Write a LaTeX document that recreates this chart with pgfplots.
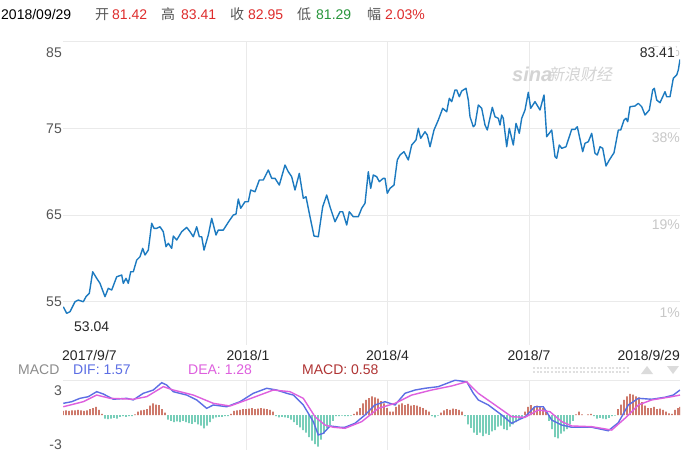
\documentclass[border=0pt]{standalone}
\usepackage{pgfplots}
\pgfplotsset{compat=1.18}
\usepackage{fontspec}
\setmainfont{Liberation Sans}
\newfontfamily\cjk{Noto Sans CJK SC}
\newfontfamily\cjkslant[FakeSlant=0.2]{Noto Sans CJK SC}
\definecolor{priceblue}{RGB}{28,122,192}
\definecolor{gridgray}{RGB}{234,234,234}
\definecolor{labgray}{RGB}{85,85,85}
\definecolor{rlabgray}{RGB}{200,200,200}
\definecolor{hdrred}{RGB}{222,44,44}
\definecolor{hdrgreen}{RGB}{40,150,60}
\definecolor{difblue}{RGB}{92,110,228}
\definecolor{deamag}{RGB}{222,96,222}
\definecolor{barred}{RGB}{180,52,30}
\definecolor{barteal}{RGB}{48,180,148}
\definecolor{macdlab}{RGB}{176,52,52}
\definecolor{wm}{RGB}{212,212,212}
\begin{document}
\begin{tikzpicture}[x=1pt,y=1pt]
\useasboundingbox (0,0) rectangle (690,450);
\fill[white] (0,0) rectangle (690,450);
% ---------- main price axis ----------
\begin{axis}[
  at={(63pt,105pt)}, anchor=south west,
  scale only axis, width=617pt, height=303.4pt,
  xmin=63, xmax=680, ymin=50, ymax=85,
  axis line style={draw=none}, tick style={draw=none},
  xtick={246.7,387.3,529}, ytick={55,65,75,85},
  xticklabels={}, yticklabels={},
  grid=major, major grid style={color=gridgray, line width=0.9pt},
]
\addplot[color=priceblue, line width=1.4pt, line join=round] coordinates {
(63.3,54.41)(66.7,53.65)(70,53.84)(75,54.99)(78.3,55.19)(83.3,54.99)(86,55.57)(89.3,55.96)
(92.7,58.45)(96.7,57.69)(100,57.11)(105,55.57)(108.3,56.54)(111.7,56.34)(116.7,57.87)(121.7,58.07)
(123.3,57.11)(126,57.69)(128.3,57.11)(130.7,58.45)(133.3,58.45)(136.7,59.80)(140,60.18)(142.7,61.15)
(145,60.38)(148.3,60.95)(151.7,64.04)(154,63.46)(156.7,63.46)(160,63.64)(163.3,63.07)(166,61.34)
(168.3,61.73)(171.7,61.15)(173.3,62.57)(176.7,62.11)(181.7,63.07)(186.7,63.57)(190,63.07)(193.3,62.49)
(196.7,63.64)(199.3,62.49)(201.7,62.49)(204,60.95)(208.3,62.69)(211.7,64.61)(216,62.69)(218.3,63.26)
(223.3,63.26)(229.3,64.34)(233.3,64.99)(236,65.10)(238.3,66.84)(240.7,65.77)(245,66.53)(248.3,66.53)
(250.7,67.88)(255,67.68)(259.3,69.03)(263.3,69.03)(268.3,70.19)(271.7,69.23)(275,69.23)(279.3,68.45)
(285,70.76)(288.3,69.99)(291.7,69.41)(295,67.88)(299.3,69.80)(303.3,66.92)(306,67.10)(310,64.80)
(314,62.57)(318.3,62.49)(322.7,65.95)(326.7,67.30)(330,65.95)(335,64.22)(340,65.37)(342.7,65.37)
(346.7,63.84)(349.3,65.37)(353.3,64.80)(358.3,64.80)(361.7,65.77)(365,66.34)(368.3,69.99)(370.7,68.07)
(373.3,69.61)(376.7,69.41)(379.3,68.84)(383.3,69.23)(385,69.23)(387.3,67.50)(390,68.07)(394,68.45)
(397.3,71.34)(400,71.92)(404,72.30)(408.3,71.34)(411.7,73.07)(416,73.65)(418.3,75.00)(420.7,73.84)
(425,74.60)(427.3,74.22)(430,72.87)(434,74.80)(438.3,75.95)(442.7,77.30)(446.7,76.91)(449.3,78.46)
(451.7,78.07)(455,79.42)(456.7,79.42)(459.3,78.64)(461.7,79.30)(466,79.61)(468.3,78.26)(470,76.33)
(473.3,75.18)(475,75.38)(478.3,77.68)(481.7,77.30)(485,75.38)(487.3,74.80)(492.3,77.42)(495,76.33)
(498.3,76.15)(500,75.38)(501.7,76.53)(503.3,76.15)(506.7,72.87)(509.3,75.00)(513.3,73.07)(516,75.57)
(519.3,74.42)(521.7,76.15)(525,77.11)(528.3,79.15)(530.7,77.30)(535,78.07)(540,77.11)(544,78.84)
(546.7,74.03)(551.7,74.80)(555,71.72)(556.7,71.54)(559.3,73.07)(561.7,72.69)(566,72.87)(571.7,74.88)
(575,74.88)(577.3,75.18)(582.7,72.30)(585,73.27)(588.3,73.45)(591.7,74.42)(595,72.11)(597.3,71.92)
(600,72.87)(602.7,72.69)(606,70.65)(609.3,71.34)(614,72.18)(618.3,74.80)(620.7,74.80)(624,75.95)
(626,76.15)(627.7,75.76)(630,77.49)(635,77.57)(638.3,77.88)(641.7,77.49)(645,76.53)(649.3,77.11)
(652.7,79.42)(654.3,79.61)(656.7,78.26)(660,77.95)(665,79.22)(666.7,78.64)(670,78.64)(673.3,80.77)
(676.7,81.15)(678.3,81.72)(680,82.95)
};
\end{axis}
% ---------- MACD axis ----------
\begin{axis}[
  at={(63pt,0pt)}, anchor=south west,
  scale only axis, width=617pt, height=70pt,
  xmin=63, xmax=680, ymin=-3, ymax=3,
  axis line style={draw=none}, tick style={draw=none},
  xtick={246.7,387.3,529}, ytick={3},
  xticklabels={}, yticklabels={},
  grid=major, major grid style={color=gridgray, line width=0.9pt},
]
\addplot[ybar, bar width=1.4pt, bar shift=0pt, fill=barred, draw=none] coordinates {
(63,0.35)(66,0.4)(69,0.35)(72,0.4)(75,0.4)(78,0.45)(81,0.4)(84,0.35)(87,0.4)(90,0.5)(93,0.6)(96,0.7)(99,0.45)(102,0.1)
(135,0.05)(138,0.3)(141,0.4)(144,0.45)(147,0.5)(150,0.8)(153,1.0)(156,0.9)(159,0.85)(162,0.5)(165,0.2)
(231,0.1)(234,0.35)(237,0.4)(240,0.45)(243,0.5)(246,0.5)(249,0.55)(252,0.6)(255,0.5)(258,0.55)(261,0.6)(264,0.55)(267,0.5)(270,0.45)(273,0.3)
(354,0.1)(357,0.3)(360,0.6)(363,1.0)(366,1.3)(369,1.45)(372,1.6)(375,1.5)(378,1.4)(381,1.2)(384,1.0)(387,0.6)(390,0.3)
(393,0.3)(396,0.7)(399,0.9)(402,1.0)(405,0.85)(408,0.95)(411,0.8)(414,0.85)(417,0.8)(420,0.7)(423,0.6)(426,0.45)(429,0.3)
(441,0.2)(444,0.4)(447,0.5)(450,0.45)(453,0.55)(456,0.5)(459,0.45)(462,0.3)
(525,0.3)(528,0.7)(531,0.85)(534,0.7)(537,0.8)(540,0.75)(543,0.6)(546,0.4)
(576,0.05)(579,0.3)(582,0.05)(588,0.05)(591,0.1)
(618,0.5)(621,0.9)(624,1.3)(627,1.6)(630,1.8)(633,1.75)(636,1.6)(639,1.5)(642,1.1)(645,0.8)(648,0.6)(651,0.6)(654,0.7)(657,0.5)(660,0.55)(663,0.45)(666,0.3)(669,0.15)(672,0.1)(675,0.45)(678,0.6)(680,0.7)
};
\addplot[ybar, bar width=1.4pt, bar shift=0pt, fill=barteal, draw=none] coordinates {
(105,-0.3)(108,-0.35)(111,-0.3)(114,-0.25)(117,-0.3)(120,-0.15)(123,-0.1)(126,-0.15)(129,-0.1)(132,-0.1)
(168,-0.4)(171,-0.5)(174,-0.6)(177,-0.55)(180,-0.6)(183,-0.5)(186,-0.6)(189,-0.7)(192,-0.75)(195,-0.6)(198,-0.8)(201,-0.9)(204,-1.15)(207,-0.9)(210,-0.6)(213,-0.3)(216,-0.2)(219,-0.15)(222,-0.15)(225,-0.1)(228,-0.1)
(276,-0.1)(279,-0.2)(282,-0.15)(285,-0.2)(288,-0.25)(291,-0.4)(294,-0.6)(297,-0.85)(300,-1.05)(303,-1.3)(306,-1.5)(309,-1.9)(312,-2.2)(315,-2.5)(318,-2.7)(321,-2.1)(324,-1.6)(327,-1.15)(330,-0.85)(333,-0.5)
(336,-0.1)(339,-0.1)(342,-0.05)(345,-0.1)(348,-0.1)(351,-0.05)
(432,-0.1)(435,-0.2)(438,-0.05)
(465,-0.1)(468,-0.8)(471,-1.1)(474,-1.5)(477,-1.7)(480,-1.5)(483,-1.8)(486,-1.6)(489,-1.7)(492,-1.4)(495,-1.3)(498,-1.0)(501,-0.9)(504,-1.2)(507,-1.3)(510,-1.0)(513,-0.8)(516,-0.6)(519,-0.4)(522,-0.3)
(549,-0.5)(552,-1.2)(555,-1.9)(558,-2.0)(561,-1.6)(564,-1.4)(567,-1.2)(570,-0.8)(573,-0.5)
(594,-0.1)(597,-0.3)(600,-0.25)(603,-0.3)(606,-0.35)(609,-0.25)(612,-0.1)(615,-0.05)
};
\addplot[color=difblue, line width=1.4pt] coordinates {
(63.3,1.00)(71.7,1.14)(80,1.43)(88.3,1.57)(96.7,2.00)(103.3,1.80)(113.3,1.35)(126.7,1.43)(133.3,1.29)
(143.3,1.86)(153.3,2.14)(161.7,2.77)(166.7,2.57)(173.3,2.00)(186.7,1.71)(196.7,1.29)(206.7,0.57)
(213.3,0.86)(226.7,0.71)(240,1.14)(253.3,1.86)(266.7,2.29)(276.7,2.14)(286.7,1.86)(293.3,1.71)
(303.3,0.86)(313.3,-0.57)(318.3,-1.71)(323.3,-1.57)(330,-0.94)(340,-1.05)(345,-1.05)(355,-0.71)
(365,0)(375,0.86)(385,1.14)(395,0.86)(405,1.86)(415,2.14)(425,2.29)(438.3,2.43)(455,2.98)
(466.7,2.85)(473.3,1.86)(478.3,1.29)(488.3,0.86)(501.7,0)(511.7,-0.71)(525,-0.15)(535,0.71)
(543.3,0.71)(551.7,-0.43)(561.7,-0.86)(571.7,-1.05)(591.7,-1.05)(608.3,-1.35)(618.3,-0.66)
(628.3,0.86)(638.3,1.43)(651.7,1.35)(665,1.52)(673.3,1.71)(680,2.14)
};
\addplot[color=deamag, line width=1.4pt] coordinates {
(63.3,0.71)(83.3,1.14)(96.7,1.71)(110,1.43)(133.3,1.35)(146.7,1.57)(163.3,2.43)(173.3,2.14)
(193.3,1.71)(213.3,1.00)(230,0.77)(246.7,1.29)(273.3,2.14)(290,2.00)(303.3,1.43)(315,-0.15)
(325,-0.86)(333.3,-1.05)(345,-1.14)(361.7,-0.57)(378.3,0.57)(395,1.00)(411.7,1.71)(431.7,2.14)
(451.7,2.49)(466.7,2.85)(478.3,1.86)(495,0.86)(511.7,-0.15)(525,-0.20)(538.3,0.43)(550,0.28)
(561.7,-0.57)(571.7,-0.94)(591.7,-1.00)(611.7,-1.29)(625,-0.28)(638.3,0.86)(651.7,1.29)
(671.7,1.57)(680,1.71)
};
\end{axis}
% ---------- texts ----------
\fontsize{14}{16}\selectfont
% header
\node[anchor=base west, inner sep=0, text=black] at (1,430) {2018/09/29};
\node[anchor=base west, inner sep=0, text=labgray] at (95,430) {\cjk 开};
\node[anchor=base west, inner sep=0, text=hdrred] at (112,430) {81.42};
\node[anchor=base west, inner sep=0, text=labgray] at (161,430) {\cjk 高};
\node[anchor=base west, inner sep=0, text=hdrred] at (181,430) {83.41};
\node[anchor=base west, inner sep=0, text=labgray] at (230,430) {\cjk 收};
\node[anchor=base west, inner sep=0, text=hdrred] at (248,430) {82.95};
\node[anchor=base west, inner sep=0, text=labgray] at (297,430) {\cjk 低};
\node[anchor=base west, inner sep=0, text=hdrgreen] at (316,430) {81.29};
\node[anchor=base west, inner sep=0, text=labgray] at (367,430) {\cjk 幅};
\node[anchor=base west, inner sep=0, text=hdrred] at (385,430) {2.03\%};
% left price labels
\node[anchor=base east, inner sep=0, text=labgray] at (62,392) {85};
\node[anchor=base east, inner sep=0, text=labgray] at (62,316.7) {75};
\node[anchor=base east, inner sep=0, text=labgray] at (62,230) {65};
\node[anchor=base east, inner sep=0, text=labgray] at (62,143.3) {55};
% right percent labels
\node[anchor=base east, inner sep=0, text=rlabgray] at (680,393) {56\%};
\node[anchor=base east, inner sep=0, text=rlabgray] at (680,307) {38\%};
\node[anchor=base east, inner sep=0, text=rlabgray] at (680,220) {19\%};
\node[anchor=base east, inner sep=0, text=rlabgray] at (680,133) {1\%};
% watermark
\node[anchor=base west, inner sep=0, text=wm] at (512,368) {\fontsize{20}{20}\selectfont\bfseries\itshape sina};
\node[anchor=base west, inner sep=0, text=wm] at (548,369) {\fontsize{16}{16}\selectfont\cjkslant 新浪财经};
% high / low labels
\node[anchor=base east, inner sep=1pt, fill=white, text=black!85] at (676,392.3) {83.41};
\node[anchor=base west, inner sep=0, text=black!85] at (74,118.3) {53.04};
% x labels
\node[anchor=base west, inner sep=0, text=black!85] at (62,90) {2017/9/7};
\node[anchor=base, inner sep=0, text=black!85] at (248,90) {2018/1};
\node[anchor=base, inner sep=0, text=black!85] at (387.5,90) {2018/4};
\node[anchor=base, inner sep=0, text=black!85] at (529,90) {2018/7};
\node[anchor=base east, inner sep=0, text=black!85] at (680,90) {2018/9/29};
% MACD legend
\node[anchor=base west, inner sep=0, text=black!45] at (18,76) {MACD};
\node[anchor=base west, inner sep=0, text=difblue] at (73,76) {DIF: 1.57};
\node[anchor=base west, inner sep=0, text=deamag] at (188,76) {DEA: 1.28};
\node[anchor=base west, inner sep=0, text=macdlab] at (302,76) {MACD: 0.58};
% MACD y labels
\node[anchor=base east, inner sep=0, text=labgray] at (62,55) {3};
\node[anchor=base east, inner sep=0, text=labgray] at (62,0.5) {-3};
% scroll widget
\draw[black!12, line width=2pt, dash pattern=on 2pt off 1.6pt] (533,82) -- (630,82);
\draw[black!12, line width=2pt, dash pattern=on 2pt off 1.6pt] (533,78.5) -- (630,78.5);
\fill[black!14] (641,76) -- (653,76) -- (647,84) -- cycle;
\fill[black!14] (667,84) -- (679,84) -- (673,76) -- cycle;
\end{tikzpicture}
\end{document}
